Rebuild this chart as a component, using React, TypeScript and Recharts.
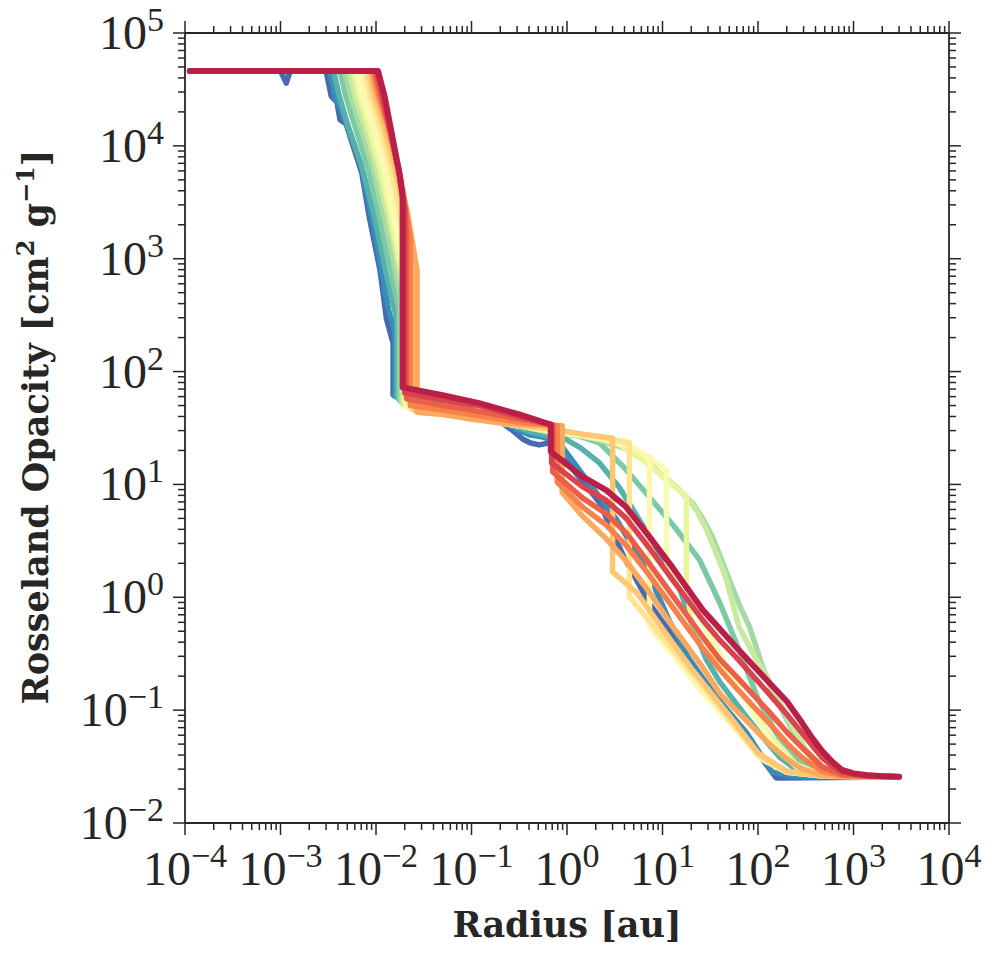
import { LineChart, Line, XAxis, YAxis } from "recharts";

type Pt = [number, number];

// radius [au], Rosseland opacity [cm^2 g^-1] for each model, blue -> red
const run00: Pt[] = [
  [1.12e-4, 46000], [1.0e-3, 46000], [1.15e-3, 36000], [1.26e-3, 46000], [3.0e-3, 46000],
  [3.4e-3, 27500], [3.9e-3, 24500], [4.2e-3, 17000], [4.9e-3, 15500], [5.5e-3, 11200],
  [7.1e-3, 5750], [8.5e-3, 2350], [0.011, 795], [0.0129, 290], [0.0151, 178], [0.0151, 62],
  [0.0316, 55], [0.1, 46], [0.2, 36], [0.27, 30], [0.35, 25], [0.41, 23.4], [0.51, 22.4],
  [0.66, 23.4], [1.0, 15.8], [2.19, 6.9], [3.98, 2.24], [7.24, 0.89], [15.8, 0.355],
  [39.8, 0.117], [79.4, 0.0537], [155, 0.0251], [3000, 0.0255],
];
const run01: Pt[] = [
  [1.12e-4, 46000], [3.3e-3, 46000], [3.7e-3, 28000], [4.4e-3, 20000], [5.25e-3, 13200],
  [7.1e-3, 6300], [8.9e-3, 2500], [0.0112, 890], [0.0135, 355], [0.0158, 224], [0.0158, 60],
  [0.0316, 55], [0.1, 46], [0.25, 33], [0.4, 27.5], [0.56, 26.3], [0.83, 23.4], [1.58, 11.2],
  [3.3, 4.9], [7.24, 1.58], [12, 0.6], [20.4, 0.25], [40, 0.12], [75.9, 0.063], [141, 0.0282],
  [251, 0.026], [3000, 0.0257],
];
const run02: Pt[] = [
  [1.12e-4, 46000], [3.6e-3, 46000], [4.1e-3, 28000], [5.0e-3, 15800], [7.1e-3, 6600],
  [9.5e-3, 2500], [0.0126, 795], [0.0166, 282], [0.0166, 59], [0.0316, 54], [0.1, 45],
  [0.25, 34], [0.4, 29.5], [0.56, 27.5], [0.89, 26.3], [1.4, 21], [2.19, 15.5], [3.5, 9.5],
  [5.6, 5.0], [9, 2.6], [14.1, 1.41], [20, 0.6], [28.8, 0.28], [39.8, 0.178], [70, 0.095],
  [112, 0.0575], [170, 0.038], [251, 0.03], [400, 0.0268], [631, 0.026], [3000, 0.0257],
];
const run03: Pt[] = [
  [1.12e-4, 46000], [4.2e-3, 46000], [4.8e-3, 28000], [6.0e-3, 15100], [8.3e-3, 6300],
  [0.011, 2240], [0.0141, 795], [0.0174, 355], [0.0174, 56], [0.0316, 52.5], [0.1, 43.6],
  [0.316, 33], [0.71, 28.8], [1.3, 27], [2.19, 23.4], [4, 14], [7.94, 7.1], [14, 4],
  [24.5, 2.14], [39.8, 0.89], [58.9, 0.4], [100, 0.126], [150, 0.066], [200, 0.0447],
  [280, 0.034], [398, 0.0282], [600, 0.0265], [1000, 0.026], [3000, 0.0257],
];
const run04: Pt[] = [
  [1.12e-4, 46000], [4.7e-3, 46000], [5.4e-3, 28000], [6.8e-3, 15100], [9.3e-3, 6300],
  [0.0123, 2240], [0.0155, 890], [0.0182, 447], [0.0182, 53.7], [0.0316, 51.3], [0.1, 42.7],
  [0.316, 33], [0.71, 28.8], [1.3, 27.3], [2.19, 24.5], [3.4, 22], [5.0, 19.1], [7.2, 15.5],
  [10, 11.7], [14.5, 9.2], [20.4, 6.9], [26, 5.1], [33.1, 3.47], [42, 2.1], [53.7, 1.23],
  [66, 0.8], [81.3, 0.55], [112, 0.24], [140, 0.15], [178, 0.1], [282, 0.0479],
  [447, 0.0316], [650, 0.0275], [1000, 0.0263], [3000, 0.0257],
];
const run05: Pt[] = [
  [1.12e-4, 46000], [5.25e-3, 46000], [6.0e-3, 28000], [7.6e-3, 15100], [0.0102, 6300],
  [0.0132, 2500], [0.0166, 1000], [0.019, 562], [0.019, 51.3], [0.0316, 50], [0.1, 41.7],
  [0.316, 33], [0.71, 28.8], [1.3, 27.5], [2.19, 25.1], [3.4, 23], [5.0, 20], [7.0, 16.5],
  [9.3, 12.6], [13, 10], [17.8, 7.8], [23, 5.8], [28.8, 3.98], [37, 2.4], [46.8, 1.43],
  [63, 0.55], [95.5, 0.282], [123, 0.2], [200, 0.089], [316, 0.0447], [501, 0.03],
  [700, 0.027], [1000, 0.0263], [3000, 0.0257],
];
const run06: Pt[] = [
  [1.12e-4, 46000], [5.75e-3, 46000], [6.6e-3, 28000], [8.3e-3, 15100], [0.011, 6300],
  [0.0141, 2500], [0.0174, 1000], [0.02, 631], [0.02, 50], [0.0316, 49], [0.1, 40.7],
  [0.316, 33], [0.71, 29.5], [2.19, 25.7], [3.5, 22.5], [5.0, 18.6], [7.2, 15], [10, 11.7],
  [13.5, 9.5], [17.8, 7.9], [17.8, 1.26], [20.4, 0.59], [31.6, 0.355], [63, 0.158],
  [126, 0.063], [251, 0.0331], [400, 0.0278], [631, 0.0263], [3000, 0.0257],
];
const run07: Pt[] = [
  [1.12e-4, 46000], [6.3e-3, 46000], [7.2e-3, 28000], [9.1e-3, 15100], [0.012, 6300],
  [0.0151, 2500], [0.0186, 1000], [0.0209, 708], [0.0209, 49], [0.0316, 47.9], [0.1, 39.8],
  [0.316, 33], [0.71, 29.5], [2.19, 25.7], [3.5, 23.6], [5.0, 20.9], [7.5, 17], [11, 13.5],
  [11, 2.04], [20, 0.89], [39.8, 0.316], [79.4, 0.112], [141, 0.05], [251, 0.0316],
  [400, 0.0275], [631, 0.026], [3000, 0.0257],
];
const run08: Pt[] = [
  [1.12e-4, 46000], [6.9e-3, 46000], [7.9e-3, 28000], [0.01, 15100], [0.0132, 6300],
  [0.0166, 2500], [0.02, 1000], [0.0219, 795], [0.0219, 47.9], [0.0316, 46.8], [0.1, 38.9],
  [0.316, 33], [0.71, 30.2], [2.19, 26.3], [3.98, 22.4], [7.3, 17.6], [7.3, 0.55],
  [12.6, 0.316], [25.1, 0.151], [56.2, 0.0708], [112, 0.0363], [200, 0.0282], [501, 0.026],
  [3000, 0.0257],
];
const run09: Pt[] = [
  [1.12e-4, 46000], [7.6e-3, 46000], [8.7e-3, 28000], [0.011, 15100], [0.0145, 6300],
  [0.0178, 2500], [0.0209, 1000], [0.0229, 501], [0.0229, 46.8], [0.0316, 45.7], [0.1, 38.5],
  [0.316, 33], [0.71, 30.9], [2.19, 26.3], [4.5, 23.4], [4.5, 1.01], [7.94, 0.562],
  [20, 0.219], [50.1, 0.0832], [100, 0.0398], [200, 0.0282], [501, 0.026], [3000, 0.0257],
];
const run10: Pt[] = [
  [1.12e-4, 46000], [8.3e-3, 46000], [9.5e-3, 28000], [0.012, 15100], [0.0158, 6300],
  [0.02, 2500], [0.024, 1000], [0.0251, 316], [0.0251, 45.7], [0.05, 42.7], [0.1, 38],
  [0.316, 33], [0.71, 30.9], [1.58, 27.5], [3.0, 25.7], [3.0, 1.68], [5.37, 1.1], [10, 0.525],
  [20, 0.234], [50.1, 0.0891], [100, 0.0417], [200, 0.0288], [501, 0.026], [3000, 0.0257],
];
const run11: Pt[] = [
  [1.12e-4, 46000], [8.9e-3, 46000], [0.0102, 28000], [0.0129, 15100], [0.017, 6300],
  [0.0214, 2500], [0.0251, 1120], [0.0269, 795], [0.0269, 43.6], [0.05, 41.7], [0.1, 38],
  [0.316, 33.9], [0.89, 33.1], [0.89, 8.5], [1.45, 5.25], [2.57, 3.31], [4.17, 2.09],
  [7.24, 1.12], [12.6, 0.562], [26.3, 0.24], [39.8, 0.141], [58.9, 0.1], [132, 0.05],
  [200, 0.037], [288, 0.0302], [468, 0.0266], [1000, 0.0257], [3000, 0.0257],
];
const run12: Pt[] = [
  [1.12e-4, 46000], [9.3e-3, 46000], [0.0107, 28000], [0.0135, 15100], [0.0174, 6300],
  [0.0209, 2500], [0.0229, 1480], [0.0229, 50], [0.05, 45.7], [0.1, 41.7], [0.316, 35.5],
  [0.79, 33.1], [0.79, 10.5], [1.45, 6.3], [2.57, 4.37], [4.17, 2.88], [7.24, 1.58],
  [12.6, 0.83], [26.3, 0.355], [39.8, 0.229], [58.9, 0.158], [132, 0.0759], [200, 0.051],
  [288, 0.038], [468, 0.0288], [759, 0.0263], [3000, 0.0257],
];
const run13: Pt[] = [
  [1.12e-4, 46000], [9.8e-3, 46000], [0.0112, 28000], [0.0138, 14100], [0.0174, 6000],
  [0.02, 2820], [0.0209, 2000], [0.0209, 57.5], [0.05, 50], [0.1, 45.7], [0.316, 38],
  [0.71, 33.9], [0.71, 12.9], [1.45, 7.6], [2.57, 5.5], [4.17, 3.72], [7.24, 2.0],
  [12.6, 1.05], [26.3, 0.447], [39.8, 0.282], [58.9, 0.2], [132, 0.0955], [200, 0.064],
  [288, 0.0468], [468, 0.0316], [759, 0.0269], [1350, 0.026], [3000, 0.0257],
];
const run14: Pt[] = [
  [1.12e-4, 46000], [0.0101, 46000], [0.0117, 28000], [0.0145, 12600], [0.0174, 5750],
  [0.019, 3550], [0.02, 2820], [0.02, 64.6], [0.05, 56.2], [0.12, 50], [0.316, 39.8],
  [0.69, 33.9], [0.69, 15.5], [1.45, 9.55], [2.57, 7.24], [4.17, 5.0], [7.24, 2.75],
  [12.6, 1.45], [26.3, 0.631], [39.8, 0.417], [58.9, 0.295], [132, 0.138], [200, 0.092],
  [288, 0.063], [468, 0.038], [600, 0.032], [759, 0.0282], [1350, 0.0263], [3000, 0.0257],
];
const run15: Pt[] = [
  [1.12e-4, 46000], [0.0105, 46000], [0.0123, 27500], [0.0151, 11200], [0.0178, 5370],
  [0.019, 3550], [0.019, 72.4], [0.05, 61.7], [0.12, 52.5], [0.316, 41.7], [0.676, 33.9],
  [0.676, 19.5], [1.45, 11.7], [2.57, 8.9], [4.17, 6.3], [7.24, 3.47], [12.6, 1.86],
  [26.3, 0.776], [58.9, 0.363], [132, 0.174], [200, 0.12], [288, 0.0776], [372, 0.0562],
  [468, 0.0437], [603, 0.0347], [759, 0.0295], [1000, 0.0275], [1350, 0.0266],
  [2000, 0.026], [3000, 0.0257],
];

const runs = [run00, run01, run02, run03, run04, run05, run06, run07, run08, run09, run10, run11, run12, run13, run14, run15];
const runColors = [
  "#486baf", "#378ebb", "#56b1ac", "#7bcaa5", "#a4daa4", "#c9e99e", "#e9f69c", "#f8fcb3",
  "#fff6af", "#fee390", "#fec776", "#fca85e", "#f7814c", "#eb5f47", "#d8434e", "#ba1f48",
];

const xMajor = [1e-4, 1e-3, 1e-2, 1e-1, 1e0, 1e1, 1e2, 1e3, 1e4];
const yMajor = [1e-2, 1e-1, 1e0, 1e1, 1e2, 1e3, 1e4, 1e5];

const withMinors = (majors: number[]) => {
  const out: number[] = [];
  majors.forEach((m, i) => {
    out.push(m);
    if (i < majors.length - 1) for (let k = 2; k <= 9; k++) out.push(k * m);
  });
  return out;
};
const xTicks = withMinors(xMajor);
const yTicks = withMinors(yMajor);

const INK = "#262626";
const TICK_FONT = "'Liberation Serif', 'DejaVu Serif', serif";
const LABEL_FONT = "'DejaVu Serif', serif";

const expOf = (v: number) => Math.round(Math.log10(v));
const isMajor = (v: number) => Math.abs(Math.log10(v) - expOf(v)) < 1e-6;
const expText = (v: number) => {
  const e = expOf(v);
  return e < 0 ? `\u2212${-e}` : `${e}`;
};

function BottomTick({ x, y, payload }: any) {
  const major = isMajor(payload.value);
  return (
    <g>
      <line x1={x} x2={x} y1={y} y2={y + (major ? 12 : 7)} stroke={INK} strokeWidth={1.5} />
      {major && (
        <text x={x} y={y + 62} textAnchor="middle" fill={INK} fontFamily={TICK_FONT} fontSize={48}>
          10<tspan dy={-18} fontSize={34}>{expText(payload.value)}</tspan>
        </text>
      )}
    </g>
  );
}

function TopTick({ x, y, payload }: any) {
  const major = isMajor(payload.value);
  return <line x1={x} x2={x} y1={y} y2={y - (major ? 12 : 7)} stroke={INK} strokeWidth={1.5} />;
}

function LeftTick({ x, y, payload }: any) {
  const major = isMajor(payload.value);
  return (
    <g>
      <line x1={x} x2={x - (major ? 12 : 7)} y1={y} y2={y} stroke={INK} strokeWidth={1.5} />
      {major && (
        <text x={x - 21} y={y + 16} textAnchor="end" fill={INK} fontFamily={TICK_FONT} fontSize={48}>
          10<tspan dy={-18} fontSize={34}>{expText(payload.value)}</tspan>
        </text>
      )}
    </g>
  );
}

function RightTick({ x, y, payload }: any) {
  const major = isMajor(payload.value);
  return <line x1={x} x2={x + (major ? 12 : 7)} y1={y} y2={y} stroke={INK} strokeWidth={1.5} />;
}

const spine = { stroke: INK, strokeWidth: 1.8 };

export default function App() {
  return (
    <div style={{ width: 980, height: 946 }}>
      <LineChart
        width={980}
        height={946}
        margin={{ top: 15, right: 29, bottom: 71, left: 77 }}
        style={{ overflow: "visible" }}
      >
        <XAxis
          dataKey="radius"
          type="number"
          scale="log"
          domain={[1e-4, 1e4]}
          allowDataOverflow
          ticks={xTicks}
          interval={0}
          tick={<BottomTick />}
          tickLine={false}
          tickSize={0}
          tickMargin={0}
          axisLine={spine}
          height={60}
          label={{
            content: () => (
              <text x={559} y={929} textAnchor="middle" fill={INK} fontFamily={LABEL_FONT} fontWeight="bold" fontSize={35}>
                Radius [au]
              </text>
            ),
          }}
        />
        <XAxis
          xAxisId="top"
          orientation="top"
          dataKey="radius"
          type="number"
          scale="log"
          domain={[1e-4, 1e4]}
          allowDataOverflow
          ticks={xTicks}
          interval={0}
          tick={<TopTick />}
          tickLine={false}
          tickSize={0}
          tickMargin={0}
          axisLine={spine}
          height={10}
        />
        <YAxis
          type="number"
          scale="log"
          domain={[1e-2, 1e5]}
          allowDataOverflow
          ticks={yTicks}
          interval={0}
          tick={<LeftTick />}
          tickLine={false}
          tickSize={0}
          tickMargin={0}
          axisLine={spine}
          width={100}
          label={{
            content: () => (
              <text
                x={40}
                y={419}
                transform="rotate(-90 40 419)"
                textAnchor="middle"
                fill={INK}
                fontFamily={LABEL_FONT}
                fontWeight="bold"
                fontSize={35}
              >
                Rosseland Opacity [cm<tspan dy={-14} fontSize={24}>2</tspan>
                <tspan dy={14}> g</tspan>
                <tspan dy={-14} fontSize={24}>{"\u22121"}</tspan>
                <tspan dy={14}>]</tspan>
              </text>
            ),
          }}
        />
        <YAxis
          yAxisId="right"
          orientation="right"
          type="number"
          scale="log"
          domain={[1e-2, 1e5]}
          allowDataOverflow
          ticks={yTicks}
          interval={0}
          tick={<RightTick />}
          tickLine={false}
          tickSize={0}
          tickMargin={0}
          axisLine={spine}
          width={10}
        />
        {runs.map((run, i) => (
          <Line
            key={i}
            data={run.map(([radius, opacity]) => ({ radius, opacity }))}
            dataKey="opacity"
            type="linear"
            stroke={runColors[i]}
            strokeWidth={i === runs.length - 1 ? 6 : 5.5}
            strokeLinecap="round"
            strokeLinejoin="round"
            dot={false}
            activeDot={false}
            isAnimationActive={false}
          />
        ))}
      </LineChart>
    </div>
  );
}
